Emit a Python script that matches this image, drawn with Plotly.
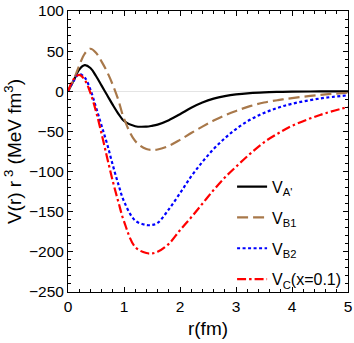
import plotly.graph_objects as go

r = [0, 0.1, 0.2, 0.3, 0.4, 0.5, 0.6, 0.7, 0.8, 0.9, 1.0, 1.2, 1.4, 1.5, 1.6, 1.8,
     2.0, 2.2, 2.4, 2.6, 2.8, 3.0, 3.25, 3.5, 3.75, 4.0, 4.5, 5.0]

v_a = [0, 13, 27, 32.5, 29, 19, 7, -5, -17, -28, -37, -43.5, -44, -43, -41.5, -36,
       -28.5, -20.5, -14, -9.2, -6, -3.8, -2.2, -1.3, -0.8, -0.5, -0.2, -0.1]
v_b1 = [0, 14, 32, 47, 53, 48, 37, 24, 8, -11, -34, -62, -72, -73, -72.5, -68,
        -60.5, -52, -44, -36.5, -30, -24.5, -18.5, -14, -11, -8.5, -4.5, -1.8]
v_b2 = [0, 13, 21.5, 17, 2, -20, -43, -66, -92, -116, -137, -161, -166.5, -166.5, -164, -147,
        -127, -106, -88, -72, -58.5, -47, -35.5, -27, -20.5, -15.5, -9, -5]
v_c = [0, 15, 20.5, 14, -2, -25, -53, -83, -112, -138, -162, -194, -201.5, -202, -200, -190,
       -173, -157, -140, -123, -107.5, -94, -78, -63.5, -52.5, -43, -29.5, -19.5]

names = ["V<sub>A'</sub>", "V<sub>B1</sub>", "V<sub>B2</sub>", "V<sub>C</sub>(x=0.1)"]
series = [v_a, v_b1, v_b2, v_c]
colors = ["#000000", "#A8784A", "#0000FF", "#FF0000"]
dashes = ["solid", "11px,5px", "3px,2.5px", "9px,3px,2.5px,3px"]

fig = go.Figure()
for i, (name, ys, c, d) in enumerate(zip(names, series, colors, dashes)):
    fig.add_trace(go.Scatter(x=r, y=ys, mode="lines", name=name, legendgroup=f"g{i}",
                             line=dict(color=c, dash=d, width=2.2, shape="spline", smoothing=1.0)))

font = dict(family="Liberation Sans, Arial, sans-serif", size=15.5, color="black")
fig.update_layout(
    width=354, height=343,
    margin=dict(l=68, r=6, t=11, b=51, autoexpand=False),
    paper_bgcolor="white", plot_bgcolor="white",
    font=font,
    showlegend=True,
    legend=dict(x=0.586, y=0.435, xanchor="left", yanchor="top", tracegroupgap=7,
                bgcolor="rgba(0,0,0,0)", font=dict(size=16)),
)
fig.update_xaxes(range=[0, 5], dtick=1, tick0=0, showgrid=False, zeroline=False,
                 showline=True, linecolor="black", linewidth=1, mirror="ticks",
                 ticks="inside", ticklen=5, tickcolor="black", ticklabeloverflow="allow",
                 minor=dict(ticks="inside", dtick=0.2, ticklen=3, tickcolor="black"),
                 title=dict(text="r(fm)", standoff=8))
fig.update_yaxes(range=[-250, 100], dtick=50, tick0=0, showgrid=False, zeroline=True,
                 zerolinecolor="#e4e4e4", zerolinewidth=1,
                 showline=True, linecolor="black", linewidth=1, mirror="ticks",
                 ticks="inside", ticklen=5, tickcolor="black", ticklabeloverflow="allow",
                 minor=dict(ticks="inside", dtick=10, ticklen=3, tickcolor="black"),
                 title=dict(text="V(r) r<sup> 3</sup> (MeV fm<sup>3</sup>)", standoff=2))

fig.write_html("out.html", config={"displayModeBar": False},
               post_script="document.body.style.margin='0';")
